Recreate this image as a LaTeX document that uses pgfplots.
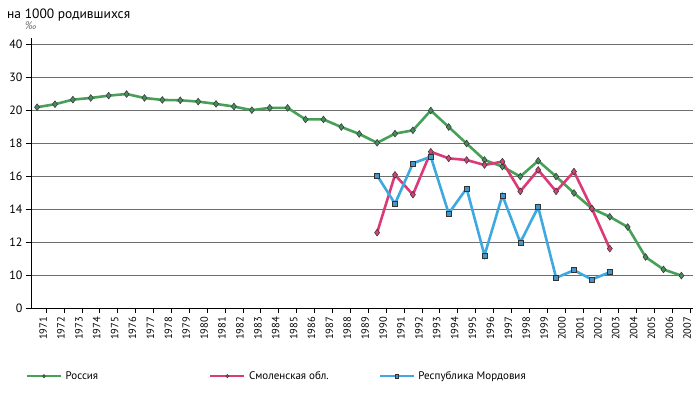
\documentclass[border=0pt]{standalone}
\usepackage{fontspec}
\setmainfont{PT Sans}
\usepackage{pgfplots}
\pgfplotsset{compat=1.18}
\definecolor{rusline}{RGB}{72,160,88}
\definecolor{rusmark}{RGB}{70,140,95}
\definecolor{smoline}{RGB}{220,58,118}
\definecolor{smomark}{RGB}{205,70,120}
\definecolor{morline}{RGB}{62,168,224}
\definecolor{mormark}{RGB}{70,150,200}
\definecolor{gridc}{RGB}{110,110,110}
\begin{document}
\begin{tikzpicture}[x=1pt,y=1pt]
\useasboundingbox (-31,-88.5) rectangle (666,308.5);
\begin{axis}[
  at={(0,0)}, anchor=origin,
  scale only axis, width=662pt, height=270.6pt,
  xmin=1970.66, xmax=2007.65,
  ymin=0, ymax=42,
  y coord trafo/.code={\pgfmathparse{#1<10 ? #1/10 : (#1<20 ? 1+(#1-10)/2 : 6+(#1-20)/10)}},
  y coord inv trafo/.code={\pgfmathparse{#1<1 ? #1*10 : (#1<6 ? 10+(#1-1)*2 : 20+(#1-6)*10)}},
  axis x line=bottom, axis y line=left,
  axis line style={-, black, line width=0.8pt},
  xtick={1971,...,2007},
  minor xtick={1970.5,1971.5,...,2007.5},
  major x tick style={draw=none},
  minor x tick style={black, line width=0.6pt},
  minor tick length=4pt,
  tick align=outside,
  ytick={0,10,12,14,16,18,20,30,40},
  major y tick style={black, line width=0.6pt},
  major tick length=5pt,
  ymajorgrids, grid style={gridc, line width=0.7pt},
  xticklabel style={rotate=90, anchor=east, font=\fontsize{10.5}{12}\selectfont, yshift=-6pt},
  yticklabel style={font=\fontsize{12}{13}\selectfont},
  xticklabel={\pgfmathprintnumber[1000 sep=]{\tick}},
  /pgf/number format/assume math mode=true,
  yticklabel={\pgfmathparse{\tick}\pgfmathprintnumber[fixed,precision=0]{\pgfmathresult}},
  legend columns=3,
  legend style={draw=none, fill=none, at={(-0.012,-0.25)}, anchor=west,
    font=\fontsize{11}{12}\selectfont, column sep=0pt,
    /tikz/every odd column/.append style={column sep=2pt}},
  legend image code/.code={\draw[mark repeat=2,mark phase=2, line width=1.4pt, mark size=1.7pt] plot coordinates {(0pt,0pt) (17pt,0pt) (34pt,0pt)};},
  clip=false,
]
\addplot[rusline, line width=2.6pt, mark=diamond*, mark size=3.4pt,
  mark options={fill=rusmark, draw=black!80, line width=0.5pt}] coordinates {
(1971,21.0) (1972,21.9) (1973,23.3) (1974,23.8) (1975,24.5) (1976,25.0)
(1977,23.8) (1978,23.2) (1979,23.1) (1980,22.7) (1981,22.0) (1982,21.2)
(1983,20.1) (1984,20.8) (1985,20.8) (1986,19.46) (1987,19.46) (1988,19.0)
(1989,18.58) (1990,18.04) (1991,18.6) (1992,18.8) (1993,20.0) (1994,19.0)
(1995,18.0) (1996,17.0) (1997,16.6) (1998,16.0) (1999,16.95) (2000,16.0)
(2001,15.0) (2002,14.06) (2003,13.56) (2004,12.94) (2005,11.12) (2006,10.37)
(2007,9.96)};
\addlegendentry{\makebox[142pt][l]{Россия}}
\addplot[smoline, line width=2.6pt, mark=diamond*, mark size=3.4pt,
  mark options={fill=smomark, draw=black!80, line width=0.5pt}] coordinates {
(1990,12.6) (1991,16.1) (1992,14.9) (1993,17.5) (1994,17.1) (1995,17.0)
(1996,16.7) (1997,16.9) (1998,15.1) (1999,16.4) (2000,15.1) (2001,16.3)
(2002,14.06) (2003,11.63)};
\addlegendentry{\makebox[128pt][l]{Смоленская обл.}}
\addplot[morline, line width=2.6pt, mark=square*, mark size=2.5pt,
  mark options={fill=mormark, draw=black!80, line width=0.5pt}] coordinates {
(1990,16.06) (1991,14.35) (1992,16.8) (1993,17.2) (1994,13.76) (1995,15.28)
(1996,11.22) (1997,14.86) (1998,12.0) (1999,14.15) (2000,9.3) (2001,10.32)
(2002,8.8) (2003,10.2)};
\addlegendentry{Республика Мордовия}
\end{axis}
\node[anchor=base west, inner sep=0pt, font=\fontsize{13.5}{15}\selectfont] at (-24,290) {на 1000 родившихся};
\node[anchor=base west, inner sep=0pt, font=\fontsize{11}{12}\selectfont\itshape, text=black!55] at (-6,279) {‰};
\end{tikzpicture}
\end{document}
